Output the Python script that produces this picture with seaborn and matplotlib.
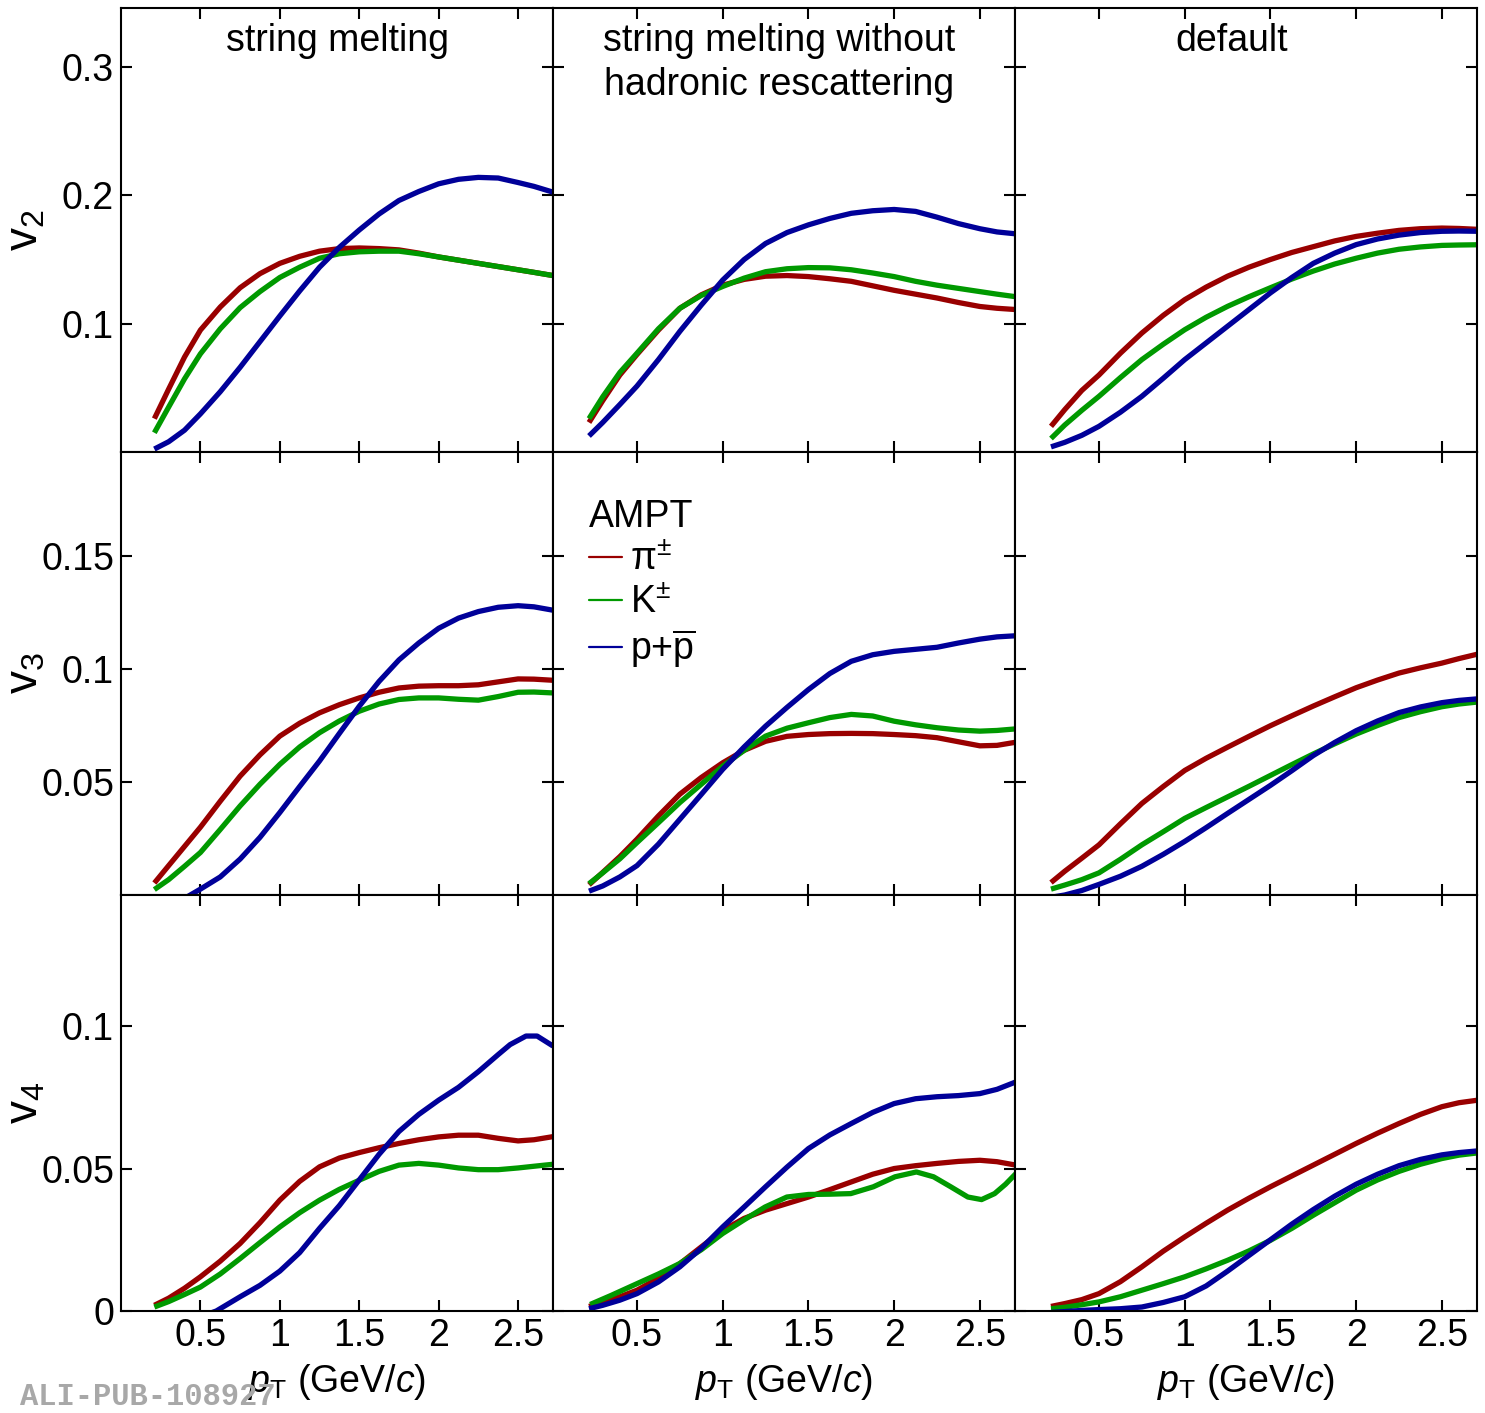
import matplotlib
matplotlib.use("Agg")
import matplotlib.pyplot as plt
import matplotlib.ticker as mticker
from matplotlib.lines import Line2D
import seaborn as sns

sns.set_style("ticks")
plt.rcParams["font.family"] = ["Liberation Sans", "DejaVu Sans"]
plt.rcParams["mathtext.fontset"] = "custom"
plt.rcParams["mathtext.rm"] = "Liberation Sans"
plt.rcParams["mathtext.it"] = "Liberation Sans:italic"
plt.rcParams["mathtext.bf"] = "Liberation Sans:bold"
for k in ["text.color", "axes.labelcolor", "xtick.color", "ytick.color", "axes.edgecolor"]:
    plt.rcParams[k] = "black"

# ── data ─────────────────────────────────────────────────
pt_left = [0.21, 0.3, 0.4, 0.5, 0.625, 0.75, 0.875, 1.0, 1.125, 1.25, 1.375, 1.5,
           1.625, 1.75, 1.875, 2.0, 2.125, 2.25, 2.375, 2.5, 2.6, 2.72]
pt_other = [0.22, 0.3, 0.4, 0.5, 0.625, 0.75, 0.875, 1.0, 1.125, 1.25, 1.375, 1.5,
            1.625, 1.75, 1.875, 2.0, 2.125, 2.25, 2.375, 2.5, 2.6, 2.71]

# v2
v2_sm_pi = [0.026, 0.049, 0.074, 0.095, 0.113, 0.128, 0.139, 0.147, 0.1525, 0.1565, 0.1585, 0.159,
            0.1585, 0.1575, 0.155, 0.152, 0.1495, 0.147, 0.1445, 0.142, 0.140, 0.1375]
v2_sm_k = [0.015, 0.035, 0.057, 0.0765, 0.096, 0.1125, 0.125, 0.136, 0.144, 0.151, 0.1545, 0.156,
           0.1565, 0.1565, 0.1545, 0.152, 0.1495, 0.147, 0.1445, 0.142, 0.140, 0.1375]
v2_sm_p = [0.0023, 0.008, 0.017, 0.0297, 0.047, 0.066, 0.086, 0.106, 0.1255, 0.144, 0.1595, 0.173,
           0.1855, 0.196, 0.203, 0.209, 0.2125, 0.214, 0.2135, 0.210, 0.207, 0.2025]

v2_nohr_pi = [0.023, 0.040, 0.060, 0.076, 0.095, 0.112, 0.1225, 0.130, 0.1345, 0.137, 0.1375, 0.1367,
              0.135, 0.133, 0.1295, 0.126, 0.123, 0.120, 0.1165, 0.1134, 0.112, 0.111]
v2_nohr_k = [0.026, 0.043, 0.062, 0.077, 0.096, 0.112, 0.122, 0.129, 0.1355, 0.1405, 0.1428, 0.1437,
             0.1435, 0.142, 0.1395, 0.1367, 0.133, 0.130, 0.1275, 0.125, 0.123, 0.121]
v2_nohr_p = [0.0125, 0.023, 0.037, 0.0514, 0.072, 0.094, 0.1145, 0.134, 0.150, 0.1625, 0.171, 0.177,
             0.182, 0.186, 0.188, 0.189, 0.1875, 0.183, 0.178, 0.174, 0.1715, 0.170]

v2_def_pi = [0.020, 0.033, 0.048, 0.060, 0.077, 0.0927, 0.1065, 0.1187, 0.1285, 0.137, 0.144, 0.150,
             0.1555, 0.160, 0.1645, 0.168, 0.1705, 0.1727, 0.174, 0.1745, 0.1742, 0.1735]
v2_def_k = [0.0105, 0.021, 0.0325, 0.0434, 0.058, 0.072, 0.084, 0.0953, 0.105, 0.1135, 0.121, 0.128,
            0.1348, 0.141, 0.1465, 0.151, 0.155, 0.158, 0.1598, 0.161, 0.1613, 0.1615]
v2_def_p = [0.004, 0.0075, 0.013, 0.020, 0.031, 0.0434, 0.0575, 0.072, 0.085, 0.098, 0.111, 0.124,
            0.136, 0.147, 0.155, 0.1616, 0.166, 0.169, 0.171, 0.172, 0.1722, 0.172]

# v3
v3_sm_pi = [0.0053, 0.013, 0.0215, 0.030, 0.0415, 0.0526, 0.062, 0.0703, 0.076, 0.0806, 0.0842, 0.0872,
            0.0897, 0.0916, 0.0924, 0.0926, 0.0926, 0.093, 0.0943, 0.0956, 0.0955, 0.095]
v3_sm_k = [0.0024, 0.0068, 0.0127, 0.0188, 0.029, 0.0394, 0.049, 0.0578, 0.0655, 0.0718, 0.077, 0.0813,
           0.0845, 0.0865, 0.0872, 0.0872, 0.0866, 0.0862, 0.0878, 0.0897, 0.0898, 0.0894]
v3_sm_p_pt = pt_left[1:]
v3_sm_p = [-0.004, -0.0015, 0.0026, 0.008, 0.0159, 0.0255, 0.0365, 0.048, 0.0593, 0.0715, 0.0835,
           0.0945, 0.104, 0.1115, 0.118, 0.1225, 0.1254, 0.1273, 0.128, 0.1275, 0.126]

v3_nohr_pi = [0.0045, 0.010, 0.017, 0.0247, 0.035, 0.0446, 0.052, 0.0585, 0.064, 0.068, 0.0702, 0.071,
              0.0714, 0.0715, 0.0714, 0.071, 0.0705, 0.0696, 0.0678, 0.066, 0.0662, 0.0676]
v3_nohr_k = [0.005, 0.0098, 0.016, 0.0232, 0.032, 0.0409, 0.049, 0.057, 0.064, 0.0703, 0.0738, 0.0762,
             0.0785, 0.0799, 0.0792, 0.0769, 0.0753, 0.074, 0.073, 0.0725, 0.0728, 0.0735]
v3_nohr_p = [0.0017, 0.004, 0.008, 0.013, 0.0225, 0.0335, 0.0445, 0.0556, 0.0655, 0.0747, 0.083, 0.0909,
             0.098, 0.1034, 0.1063, 0.1078, 0.1087, 0.1096, 0.1115, 0.1132, 0.1142, 0.1147]

v3_def_pi = [0.0055, 0.0105, 0.0163, 0.0222, 0.0315, 0.0405, 0.048, 0.0551, 0.0605, 0.0654, 0.0702, 0.0749,
             0.0793, 0.0836, 0.0877, 0.0917, 0.0951, 0.0982, 0.1005, 0.1026, 0.1046, 0.1066]
v3_def_k = [0.0026, 0.0044, 0.0068, 0.0098, 0.0158, 0.0222, 0.028, 0.0339, 0.0387, 0.0434, 0.0481, 0.0529,
            0.0577, 0.0624, 0.0669, 0.0712, 0.075, 0.0785, 0.0811, 0.0833, 0.0845, 0.0854]
v3_def_p = [-0.001, 0.0, 0.002, 0.0047, 0.0083, 0.0127, 0.018, 0.0237, 0.0298, 0.0361, 0.0423, 0.0485,
            0.055, 0.0617, 0.0675, 0.0727, 0.077, 0.0807, 0.0832, 0.0851, 0.0861, 0.0868]

# v4
v4_sm_pi = [0.002, 0.0045, 0.008, 0.012, 0.0175, 0.0237, 0.031, 0.0389, 0.0455, 0.0506, 0.0537, 0.0556,
            0.0573, 0.0588, 0.0601, 0.0611, 0.0617, 0.0617, 0.0606, 0.0597, 0.0601, 0.0612]
v4_sm_k = [0.0014, 0.0033, 0.0058, 0.0084, 0.013, 0.0184, 0.024, 0.0295, 0.0345, 0.0389, 0.0427, 0.0459,
           0.049, 0.0512, 0.0518, 0.0512, 0.0502, 0.0496, 0.0496, 0.0502, 0.0508, 0.0515]
v4_sm_p_pt = [0.45, 0.6, 0.75, 0.875, 1.0, 1.125, 1.25, 1.375, 1.5, 1.625, 1.75, 1.875, 2.0,
              2.125, 2.25, 2.375, 2.45, 2.55, 2.62, 2.72]
v4_sm_p = [-0.003, 0.0, 0.005, 0.009, 0.014, 0.0205, 0.029, 0.037, 0.046, 0.055, 0.063, 0.069, 0.074,
           0.0785, 0.084, 0.090, 0.0935, 0.0965, 0.0965, 0.093]

v4_nohr_pi = [0.0016, 0.003, 0.005, 0.0073, 0.0115, 0.0166, 0.0225, 0.0283, 0.0325, 0.0354, 0.0377, 0.040,
              0.0426, 0.0453, 0.048, 0.050, 0.051, 0.0518, 0.0525, 0.0529, 0.0524, 0.0512]
v4_nohr_k_pt = [0.227, 0.35, 0.5, 0.625, 0.747, 0.875, 1.0, 1.125, 1.247, 1.374, 1.5, 1.625, 1.747,
                1.879, 2.005, 2.13, 2.23, 2.33, 2.43, 2.51, 2.586, 2.65, 2.71]
v4_nohr_k = [0.0023, 0.0055, 0.0096, 0.013, 0.0166, 0.0215, 0.0272, 0.032, 0.0365, 0.040, 0.0409, 0.041,
             0.0412, 0.0436, 0.0471, 0.0488, 0.0471, 0.0436, 0.040, 0.0391, 0.0412, 0.0445, 0.0482]
v4_nohr_p = [0.0008, 0.002, 0.0038, 0.0061, 0.0102, 0.0155, 0.022, 0.0295, 0.0365, 0.0436, 0.0505, 0.057,
             0.0618, 0.0658, 0.0697, 0.0728, 0.0745, 0.0752, 0.0756, 0.0763, 0.0778, 0.0804]

v4_def_pi = [0.0016, 0.0026, 0.004, 0.0061, 0.0103, 0.0155, 0.021, 0.026, 0.0308, 0.0354, 0.0396, 0.0436,
             0.0474, 0.0512, 0.055, 0.0588, 0.0624, 0.0658, 0.069, 0.0717, 0.0731, 0.074]
v4_def_k = [0.0008, 0.0013, 0.0022, 0.0032, 0.005, 0.0073, 0.0096, 0.012, 0.0148, 0.0178, 0.0211, 0.0248,
            0.029, 0.0336, 0.038, 0.0424, 0.046, 0.049, 0.0515, 0.0535, 0.0547, 0.0555]
v4_def_p = [-0.0005, -0.0002, 0.0002, 0.0005, 0.0008, 0.0014, 0.003, 0.005, 0.0088, 0.014, 0.0195, 0.025,
            0.0305, 0.0356, 0.0403, 0.0445, 0.048, 0.051, 0.0532, 0.0548, 0.0556, 0.0562]

species = ["pi", "k", "p"]
colors = {"pi": "#990000", "k": "#009900", "p": "#000099"}
legend_labels = [r"π$^{\pm}$", r"K$^{\pm}$", r"p+$\overline{\mathrm{p}}$"]
col_titles = ["string melting", "string melting without\nhadronic rescattering", "default"]
row_labels = [r"$\mathrm{v}_{2}$", r"$\mathrm{v}_{3}$", r"$\mathrm{v}_{4}$"]
row_ylims = [(0, 0.346), (0, 0.196), (0, 0.146)]
row_yticks = [[0.1, 0.2, 0.3], [0.05, 0.1, 0.15], [0, 0.05, 0.1]]
xticks = [0.5, 1, 1.5, 2, 2.5]

panels = [
    [(pt_left, v2_sm_pi, pt_left, v2_sm_k, pt_left, v2_sm_p),
     (pt_other, v2_nohr_pi, pt_other, v2_nohr_k, pt_other, v2_nohr_p),
     (pt_other, v2_def_pi, pt_other, v2_def_k, pt_other, v2_def_p)],
    [(pt_left, v3_sm_pi, pt_left, v3_sm_k, v3_sm_p_pt, v3_sm_p),
     (pt_other, v3_nohr_pi, pt_other, v3_nohr_k, pt_other, v3_nohr_p),
     (pt_other, v3_def_pi, pt_other, v3_def_k, pt_other, v3_def_p)],
    [(pt_left, v4_sm_pi, pt_left, v4_sm_k, v4_sm_p_pt, v4_sm_p),
     (pt_other, v4_nohr_pi, v4_nohr_k_pt, v4_nohr_k, pt_other, v4_nohr_p),
     (pt_other, v4_def_pi, pt_other, v4_def_k, pt_other, v4_def_p)],
]

# ── figure ───────────────────────────────────────────────
fig, axes = plt.subplots(
    3, 3, figsize=(14.85, 14.13), dpi=100,
    gridspec_kw={"width_ratios": [432, 462, 462],
                 "height_ratios": [444, 443, 416],
                 "wspace": 0, "hspace": 0,
                 "left": 121 / 1485, "right": 1477 / 1485,
                 "top": 1 - 8 / 1413, "bottom": 1 - 1311 / 1413})

for r in range(3):
    for c in range(3):
        ax = axes[r, c]
        data = panels[r][c]
        for i, sp in enumerate(species):
            sns.lineplot(x=data[2 * i], y=data[2 * i + 1], ax=ax, color=colors[sp],
                         linewidth=3.8, sort=False, estimator=None, legend=False,
                         solid_capstyle="butt", solid_joinstyle="round")
        ax.set_xlim((0.0, 2.72) if c == 0 else (0.01, 2.705))
        ax.set_ylim(row_ylims[r])
        ax.set_xticks(xticks)
        ax.set_yticks(row_yticks[r])
        ax.xaxis.set_major_formatter(mticker.FuncFormatter(lambda v, _: f"{v:g}"))
        ax.yaxis.set_major_formatter(mticker.FuncFormatter(lambda v, _: f"{v:g}"))
        ax.tick_params(direction="in", top=True, right=True, length=8, width=1.5,
                       labelsize=27, pad=5,
                       labelbottom=(r == 2), labelleft=(c == 0))
        for s in ax.spines.values():
            s.set_linewidth(1.5)
        ax.set_xlabel("")
        ax.set_ylabel("")
        if r == 2:
            ax.set_xlabel(r"$p_{\mathrm{T}}$ (GeV/$c$)", fontsize=27, labelpad=6)
        if c == 0:
            ax.set_ylabel(row_labels[r], fontsize=33)
            ax.yaxis.set_label_coords(-0.17, 0.5)
        if r == 0:
            tx = [0.5, 0.489, 0.47][c]
            ax.text(tx, 0.966, col_titles[c], transform=ax.transAxes,
                    ha="center", va="top", fontsize=27, linespacing=1.3)

# legend in the centre panel
handles = [Line2D([], [], color=colors[sp], lw=1.6) for sp in species]
axes[1, 1].legend(handles, legend_labels, title="AMPT", loc="upper left",
                  bbox_to_anchor=(0.077, 0.893), frameon=False, fontsize=27,
                  title_fontsize=27, handlelength=0.9, handletextpad=0.2,
                  labelspacing=0.18, borderpad=0, borderaxespad=0, alignment="left")

fig.text(20 / 1485, 8 / 1413, "ALI-PUB-108927", family="Liberation Mono",
         weight="bold", color="#a8a8a8", fontsize=22, va="baseline", ha="left")

fig.savefig("out.png", dpi=100)
plt.close()
